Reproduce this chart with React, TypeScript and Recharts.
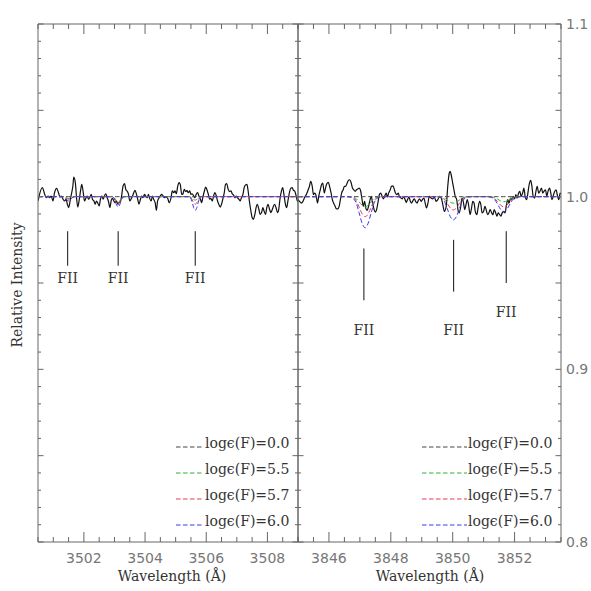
import { LineChart, Line, XAxis, YAxis, ReferenceLine, ReferenceDot } from 'recharts'

// observed spectrum, [wavelength (A), relative intensity]
const LEFT_SPECTRUM: [number, number][] = [
  [3500.50, 0.9975], [3500.64, 1.0052], [3500.72, 1.0013], [3500.77, 0.9994], [3500.83, 1.0004], [3500.88, 0.9994],
  [3500.93, 1.0004], [3500.99, 0.9975], [3501.04, 1.0023], [3501.11, 1.0048], [3501.17, 1.0023], [3501.22, 0.9998],
  [3501.26, 1.0004], [3501.32, 0.9985], [3501.37, 0.9975], [3501.42, 0.9985], [3501.46, 0.9956], [3501.50, 0.9937],
  [3501.55, 0.9975], [3501.59, 1.0013], [3501.64, 1.0062], [3501.67, 1.0113], [3501.72, 1.0081], [3501.76, 0.9994],
  [3501.80, 0.9940], [3501.85, 0.9985], [3501.89, 1.0033], [3501.93, 1.0071], [3501.98, 1.0023], [3502.02, 0.9975],
  [3502.07, 0.9994], [3502.11, 1.0004], [3502.15, 0.9985], [3502.20, 0.9998], [3502.24, 1.0013], [3502.28, 0.9985],
  [3502.33, 0.9975], [3502.37, 0.9956], [3502.41, 0.9975], [3502.46, 0.9960], [3502.50, 0.9946], [3502.54, 0.9985],
  [3502.59, 1.0004], [3502.63, 0.9985], [3502.67, 1.0004], [3502.72, 1.0017], [3502.76, 0.9994], [3502.80, 0.9975],
  [3502.85, 0.9937], [3502.89, 0.9975], [3502.93, 0.9990], [3502.98, 0.9975], [3503.02, 0.9965], [3503.07, 0.9975],
  [3503.11, 0.9956], [3503.15, 0.9965], [3503.20, 0.9975], [3503.24, 1.0013], [3503.28, 1.0062], [3503.33, 1.0075],
  [3503.37, 1.0042], [3503.41, 1.0033], [3503.46, 1.0013], [3503.50, 0.9975], [3503.54, 0.9985], [3503.59, 1.0004],
  [3503.63, 1.0023], [3503.67, 1.0037], [3503.72, 1.0013], [3503.76, 0.9985], [3503.80, 0.9956], [3503.85, 0.9985],
  [3503.89, 1.0004], [3503.93, 0.9994], [3503.98, 1.0013], [3504.02, 1.0004], [3504.07, 0.9994], [3504.11, 1.0013],
  [3504.15, 0.9990], [3504.20, 0.9975], [3504.24, 1.0004], [3504.28, 0.9985], [3504.33, 0.9965], [3504.37, 0.9921],
  [3504.41, 0.9975], [3504.46, 0.9994], [3504.50, 1.0004], [3504.54, 1.0013], [3504.59, 1.0004], [3504.63, 0.9994],
  [3504.68, 0.9998], [3504.74, 0.9990], [3504.79, 0.9965], [3504.85, 0.9994], [3504.89, 1.0033], [3504.94, 1.0023],
  [3504.98, 1.0033], [3505.02, 1.0017], [3505.07, 1.0062], [3505.11, 1.0081], [3505.15, 1.0071], [3505.20, 1.0013],
  [3505.24, 1.0017], [3505.28, 1.0042], [3505.33, 1.0029], [3505.37, 1.0037], [3505.41, 1.0023], [3505.46, 1.0033],
  [3505.50, 1.0013], [3505.54, 1.0017], [3505.59, 1.0004], [3505.63, 0.9994], [3505.67, 1.0013], [3505.72, 1.0023],
  [3505.76, 1.0004], [3505.81, 0.9985], [3505.85, 0.9965], [3505.89, 0.9998], [3505.94, 1.0033], [3505.98, 1.0056],
  [3506.02, 1.0042], [3506.07, 1.0013], [3506.11, 0.9985], [3506.15, 0.9990], [3506.20, 0.9975], [3506.24, 1.0004],
  [3506.28, 1.0023], [3506.33, 1.0004], [3506.37, 0.9975], [3506.41, 0.9956], [3506.46, 0.9940], [3506.50, 0.9956],
  [3506.54, 0.9985], [3506.59, 1.0023], [3506.63, 1.0071], [3506.67, 1.0075], [3506.72, 1.0042], [3506.76, 1.0029],
  [3506.81, 1.0033], [3506.85, 1.0017], [3506.89, 1.0010], [3506.94, 0.9994], [3506.98, 1.0004], [3507.02, 0.9994],
  [3507.07, 0.9985], [3507.11, 0.9975], [3507.15, 0.9994], [3507.20, 1.0013], [3507.24, 1.0052], [3507.28, 1.0067],
  [3507.33, 1.0071], [3507.37, 1.0033], [3507.41, 0.9975], [3507.46, 0.9917], [3507.50, 0.9879], [3507.54, 0.9869],
  [3507.59, 0.9898], [3507.63, 0.9937], [3507.67, 0.9956], [3507.72, 0.9927], [3507.76, 0.9898], [3507.81, 0.9908],
  [3507.85, 0.9937], [3507.89, 0.9917], [3507.94, 0.9898], [3507.98, 0.9937], [3508.02, 0.9956], [3508.07, 0.9927],
  [3508.11, 0.9908], [3508.15, 0.9921], [3508.20, 0.9946], [3508.24, 0.9956], [3508.28, 0.9937], [3508.33, 0.9908],
  [3508.37, 0.9927], [3508.41, 0.9985], [3508.46, 1.0033], [3508.50, 1.0052], [3508.54, 1.0013], [3508.59, 0.9956],
  [3508.63, 0.9937], [3508.67, 0.9975], [3508.72, 1.0023], [3508.76, 1.0048], [3508.81, 1.0052], [3508.85, 1.0037],
  [3508.89, 1.0033], [3508.94, 1.0004], [3508.98, 0.9975], [3509.00, 0.9970],
]

const RIGHT_SPECTRUM: [number, number][] = [
  [3845.00, 0.9983], [3845.05, 0.9973], [3845.11, 0.9963], [3845.16, 0.9973], [3845.22, 0.9998], [3845.27, 1.0012],
  [3845.33, 1.0040], [3845.37, 1.0060], [3845.41, 1.0088], [3845.46, 1.0060], [3845.50, 1.0012], [3845.54, 1.0021],
  [3845.59, 1.0002], [3845.63, 0.9963], [3845.67, 1.0002], [3845.72, 1.0040], [3845.76, 1.0069], [3845.80, 1.0079],
  [3845.85, 1.0021], [3845.89, 1.0050], [3845.93, 1.0075], [3845.98, 1.0083], [3846.02, 1.0060], [3846.07, 1.0021],
  [3846.11, 0.9983], [3846.15, 0.9963], [3846.20, 0.9944], [3846.24, 0.9929], [3846.28, 0.9929], [3846.33, 0.9944],
  [3846.37, 0.9983], [3846.41, 1.0021], [3846.46, 1.0040], [3846.50, 1.0060], [3846.54, 1.0060], [3846.59, 1.0079],
  [3846.63, 1.0094], [3846.67, 1.0098], [3846.72, 1.0079], [3846.76, 1.0050], [3846.80, 1.0040], [3846.85, 1.0031],
  [3846.89, 1.0040], [3846.93, 1.0044], [3846.98, 1.0050], [3847.02, 1.0037], [3847.07, 0.9983], [3847.11, 0.9944],
  [3847.15, 0.9973], [3847.20, 0.9929], [3847.24, 0.9921], [3847.28, 0.9944], [3847.33, 0.9983], [3847.37, 1.0002],
  [3847.41, 0.9963], [3847.46, 0.9925], [3847.50, 0.9910], [3847.54, 0.9925], [3847.59, 0.9973], [3847.63, 1.0012],
  [3847.67, 1.0021], [3847.72, 1.0002], [3847.76, 0.9987], [3847.80, 1.0002], [3847.85, 1.0021], [3847.89, 0.9998],
  [3847.93, 1.0021], [3847.98, 1.0040], [3848.02, 1.0060], [3848.07, 1.0063], [3848.11, 1.0044], [3848.15, 1.0021],
  [3848.20, 1.0012], [3848.24, 1.0021], [3848.28, 0.9998], [3848.33, 0.9992], [3848.37, 0.9987], [3848.41, 1.0002],
  [3848.46, 0.9983], [3848.50, 0.9967], [3848.54, 0.9983], [3848.59, 0.9998], [3848.63, 0.9973], [3848.67, 0.9963],
  [3848.72, 0.9979], [3848.76, 0.9987], [3848.80, 0.9973], [3848.85, 0.9963], [3848.89, 0.9979], [3848.93, 0.9987],
  [3848.98, 0.9973], [3849.02, 0.9983], [3849.07, 0.9992], [3849.11, 0.9963], [3849.15, 0.9935], [3849.20, 0.9963],
  [3849.24, 1.0002], [3849.30, 0.9992], [3849.35, 0.9987], [3849.41, 0.9998], [3849.46, 0.9973], [3849.52, 0.9983],
  [3849.57, 1.0002], [3849.63, 0.9992], [3849.68, 0.9954], [3849.73, 0.9915], [3849.79, 0.9944], [3849.84, 1.0060],
  [3849.89, 1.0137], [3849.92, 1.0146], [3849.95, 1.0127], [3850.00, 1.0079], [3850.04, 1.0040], [3850.08, 1.0002],
  [3850.13, 0.9983], [3850.17, 0.9925], [3850.21, 0.9906], [3850.26, 0.9944], [3850.30, 0.9992], [3850.34, 0.9973],
  [3850.39, 0.9925], [3850.43, 0.9954], [3850.47, 0.9983], [3850.52, 0.9944], [3850.56, 0.9896], [3850.60, 0.9925],
  [3850.65, 0.9973], [3850.69, 0.9963], [3850.73, 0.9915], [3850.78, 0.9896], [3850.82, 0.9935], [3850.87, 0.9973],
  [3850.91, 0.9954], [3850.95, 0.9906], [3851.00, 0.9915], [3851.04, 0.9944], [3851.08, 0.9925], [3851.13, 0.9896],
  [3851.17, 0.9906], [3851.21, 0.9925], [3851.26, 0.9906], [3851.30, 0.9896], [3851.34, 0.9925], [3851.39, 0.9906],
  [3851.43, 0.9887], [3851.47, 0.9906], [3851.52, 0.9896], [3851.56, 0.9887], [3851.60, 0.9906], [3851.65, 0.9915],
  [3851.69, 0.9906], [3851.73, 0.9944], [3851.78, 0.9983], [3851.82, 0.9963], [3851.87, 0.9992], [3851.91, 0.9983],
  [3851.95, 1.0002], [3852.00, 0.9987], [3852.04, 1.0012], [3852.08, 0.9992], [3852.13, 1.0021], [3852.17, 1.0031],
  [3852.21, 1.0002], [3852.26, 1.0021], [3852.30, 1.0050], [3852.34, 1.0002], [3852.39, 0.9983], [3852.43, 1.0021],
  [3852.47, 1.0069], [3852.52, 1.0094], [3852.56, 1.0060], [3852.60, 1.0002], [3852.65, 0.9992], [3852.69, 1.0031],
  [3852.73, 1.0060], [3852.78, 1.0021], [3852.82, 1.0031], [3852.87, 1.0050], [3852.91, 1.0021], [3852.95, 1.0031],
  [3853.00, 1.0040], [3853.04, 1.0002], [3853.08, 1.0031], [3853.13, 1.0050], [3853.17, 1.0021], [3853.21, 0.9983],
  [3853.26, 1.0012], [3853.30, 1.0031], [3853.34, 1.0040], [3853.39, 1.0002], [3853.43, 0.9983], [3853.47, 1.0021],
  [3853.50, 1.0015],
]

// synthetic spectra, log eps(F) = 0.0 / 5.5 / 5.7 / 6.0
const LEFT_MODEL_WAVE = [
  3500.5, 3501.3, 3501.35, 3501.4, 3501.45, 3501.5, 3501.55, 3501.6, 3501.65, 3501.7,
  3502.92, 3502.97, 3503.02, 3503.07, 3503.12, 3503.17, 3503.22, 3503.27, 3503.32,
  3505.44, 3505.49, 3505.54, 3505.59, 3505.64, 3505.69, 3505.74, 3505.79, 3505.84, 3509.0,
]
const LEFT_MODEL_00 = [
  1, 1, 1, 1, 1, 1, 1, 1, 1, 1, 1, 1, 1, 1, 1, 1, 1, 1, 1, 1, 1, 1, 1, 1, 1, 1, 1, 1, 1,
]
const LEFT_MODEL_55 = [
  1, 1, 0.9999, 0.9996, 0.9992, 0.999, 0.9992, 0.9996, 0.9999, 1,
  1, 0.9997, 0.9988, 0.9976, 0.997, 0.9976, 0.9988, 0.9997, 1,
  1, 0.9998, 0.9992, 0.9984, 0.998, 0.9984, 0.9992, 0.9998, 1, 1,
]
const LEFT_MODEL_57 = [
  1, 1, 0.99985, 0.9994, 0.9988, 0.9985, 0.9988, 0.9994, 0.99985, 1,
  1, 0.9996, 0.9984, 0.9968, 0.996, 0.9968, 0.9984, 0.9996, 1,
  1, 0.99956, 0.99824, 0.99648, 0.9956, 0.99648, 0.99824, 0.99956, 1, 1,
]
const LEFT_MODEL_60 = [
  1, 1, 0.99975, 0.999, 0.998, 0.9975, 0.998, 0.999, 0.99975, 1,
  1, 0.9994, 0.9976, 0.9952, 0.994, 0.9952, 0.9976, 0.9994, 1,
  1, 0.9992, 0.9968, 0.9936, 0.992, 0.9936, 0.9968, 0.9992, 1, 1,
]

const RIGHT_MODEL_WAVE = [
  3845.0, 3846.6, 3846.72, 3846.87, 3846.97, 3847.07, 3847.17, 3847.27, 3847.37, 3847.47, 3847.62, 3847.75,
  3849.45, 3849.57, 3849.72, 3849.82, 3849.92, 3850.02, 3850.12, 3850.22, 3850.32, 3850.47, 3850.6,
  3851.08, 3851.2, 3851.35, 3851.45, 3851.55, 3851.65, 3851.75, 3851.85, 3851.95, 3852.1, 3852.22, 3853.5,
]
const RIGHT_MODEL_00 = [
  1, 1, 1, 1, 1, 1, 1, 1, 1, 1, 1, 1, 1, 1, 1, 1, 1, 1,
  1, 1, 1, 1, 1, 1, 1, 1, 1, 1, 1, 1, 1, 1, 1, 1, 1,
]
const RIGHT_MODEL_55 = [
  1, 1, 0.9999, 0.999, 0.9971, 0.9951, 0.9942, 0.9951, 0.9971, 0.999, 0.9999, 1,
  1, 0.9999, 0.9993, 0.9981, 0.9968, 0.9962, 0.9968, 0.9981, 0.9993, 0.9999, 1,
  1, 1, 0.9995, 0.9986, 0.9975, 0.9971, 0.9975, 0.9986, 0.9995, 1, 1, 1,
]
const RIGHT_MODEL_57 = [
  1, 1, 0.9998, 0.9979, 0.9942, 0.9901, 0.9884, 0.9901, 0.9942, 0.9979, 0.9998, 1,
  1, 0.9998, 0.9986, 0.9962, 0.9935, 0.9923, 0.9935, 0.9962, 0.9986, 0.9998, 1,
  1, 0.9999, 0.999, 0.9971, 0.9951, 0.9942, 0.9951, 0.9971, 0.999, 0.9999, 1, 1,
]
const RIGHT_MODEL_60 = [
  1, 1, 0.9996, 0.9968, 0.991, 0.9847, 0.982, 0.9847, 0.991, 0.9968, 0.9996, 1,
  1, 0.9997, 0.9976, 0.9933, 0.9885, 0.9865, 0.9885, 0.9933, 0.9976, 0.9997, 1,
  1, 0.9998, 0.9984, 0.9957, 0.9926, 0.9913, 0.9926, 0.9957, 0.9984, 0.9998, 1, 1,
]

const MODEL_LABELS = ['log\u03f5(F)=0.0', 'log\u03f5(F)=5.5', 'log\u03f5(F)=5.7', 'log\u03f5(F)=6.0']
const MODEL_COLORS = ['#444444', '#33b033', '#e8375a', '#3a3af0']

// F II line identifications: wavelength, tick top, tick bottom, label height
const LEFT_LINE_WAVE = [3501.47, 3503.12, 3505.64]
const LEFT_LINE_TOP = [0.980, 0.980, 0.980]
const LEFT_LINE_BOTTOM = [0.960, 0.960, 0.960]
const LEFT_LINE_LABEL = [0.953, 0.953, 0.953]
const RIGHT_LINE_WAVE = [3847.13, 3850.03, 3851.73]
const RIGHT_LINE_TOP = [0.970, 0.975, 0.980]
const RIGHT_LINE_BOTTOM = [0.940, 0.945, 0.950]
const RIGHT_LINE_LABEL = [0.923, 0.923, 0.933]

const LEFT_X_TICKS = [
  3500.5, 3501, 3501.5, 3502, 3502.5, 3503, 3503.5, 3504, 3504.5,
  3505, 3505.5, 3506, 3506.5, 3507, 3507.5, 3508, 3508.5, 3509,
]
const LEFT_X_LABELS = [3502, 3504, 3506, 3508]
const RIGHT_X_TICKS = [
  3845, 3845.5, 3846, 3846.5, 3847, 3847.5, 3848, 3848.5, 3849,
  3849.5, 3850, 3850.5, 3851, 3851.5, 3852, 3852.5, 3853, 3853.5,
]
const RIGHT_X_LABELS = [3846, 3848, 3850, 3852]
const Y_TICKS = [
  0.8, 0.81, 0.82, 0.83, 0.84, 0.85, 0.86, 0.87, 0.88, 0.89, 0.9, 0.91, 0.92, 0.93, 0.94, 0.95,
  0.96, 0.97, 0.98, 0.99, 1.0, 1.01, 1.02, 1.03, 1.04, 1.05, 1.06, 1.07, 1.08, 1.09, 1.1,
]
const Y_MAJOR = [0.8, 0.85, 0.9, 0.95, 1.0, 1.05, 1.1]
const Y_LABELS = [0.8, 0.9, 1.0, 1.1]

const FRAME = '#666666'
const INK = '#333333'
const TICK_INK = '#777777'
const SERIF = 'DejaVu Serif'
const DASH = '4.5 2.5'

const bottomTick = (labels: number[]) => (p: any) => {
  const v = p.payload.value
  const major = labels.includes(v)
  return (
    <g>
      <line x1={p.x} x2={p.x} y1={p.y} y2={p.y - (major ? 10 : 5)} stroke={FRAME} />
      {major && (
        <text x={p.x} y={p.y + 21} textAnchor="middle" fontSize={14} fill={TICK_INK} fontFamily="DejaVu Sans">
          {v}
        </text>
      )}
    </g>
  )
}

const topTick = (labels: number[]) => (p: any) => {
  const major = labels.includes(p.payload.value)
  return <line x1={p.x} x2={p.x} y1={p.y} y2={p.y + (major ? 10 : 5)} stroke={FRAME} />
}

const leftTick = (p: any) => {
  const major = Y_MAJOR.includes(p.payload.value)
  return <line x1={p.x} x2={p.x + (major ? 5.5 : 3)} y1={p.y} y2={p.y} stroke={FRAME} />
}

const rightTick = (showLabels: boolean) => (p: any) => {
  const v = p.payload.value
  const major = Y_MAJOR.includes(v)
  return (
    <g>
      <line x1={p.x} x2={p.x - (major ? 5.5 : 3)} y1={p.y} y2={p.y} stroke={FRAME} />
      {showLabels && Y_LABELS.includes(v) && (
        <text x={p.x + 5} y={p.y + 5} fontSize={14} fill={TICK_INK} fontFamily="DejaVu Sans">
          {v.toFixed(1)}
        </text>
      )}
    </g>
  )
}

const labelShape = (p: any) => (
  <text x={p.cx} y={p.cy + 5} textAnchor="middle" fontSize={14} fill={INK} fontFamily={SERIF}>
    FII
  </text>
)

type PanelProps = {
  left: number
  width: number
  margin: { top: number; right: number; bottom: number; left: number }
  domain: [number, number]
  xTicks: number[]
  xLabels: number[]
  spectrum: [number, number][]
  modelWave: number[]
  models: number[][]
  lineWave: number[]
  lineTop: number[]
  lineBottom: number[]
  lineLabel: number[]
  yLabels: boolean
}

function Panel(props: PanelProps) {
  const spec = props.spectrum.map(([x, y]) => ({ x, y }))
  const models = props.models.map((m) => props.modelWave.map((x, i) => ({ x, y: m[i] })))
  return (
    <div style={{ position: 'absolute', left: props.left, top: 0 }}>
      <LineChart width={props.width} height={591} margin={props.margin}>
        <XAxis
          xAxisId="b" dataKey="x" type="number" domain={props.domain} allowDataOverflow
          ticks={props.xTicks} interval={0} height={1} tickSize={0} tickMargin={0} tickLine={false}
          axisLine={{ stroke: FRAME }} tick={bottomTick(props.xLabels)}
        />
        <XAxis
          xAxisId="t" orientation="top" dataKey="x" type="number" domain={props.domain} allowDataOverflow
          ticks={props.xTicks} interval={0} height={1} tickSize={0} tickMargin={0} tickLine={false}
          axisLine={{ stroke: FRAME }} tick={topTick(props.xLabels)}
        />
        <YAxis
          yAxisId="l" type="number" domain={[0.8, 1.1]} allowDataOverflow ticks={Y_TICKS} interval={0}
          width={1} tickSize={0} tickMargin={0} tickLine={false} axisLine={{ stroke: FRAME }} tick={leftTick}
        />
        <YAxis
          yAxisId="r" orientation="right" type="number" domain={[0.8, 1.1]} allowDataOverflow ticks={Y_TICKS}
          interval={0} width={1} tickSize={0} tickMargin={0} tickLine={false} axisLine={{ stroke: FRAME }}
          tick={rightTick(props.yLabels)}
        />
        <Line
          xAxisId="b" yAxisId="l" data={spec} dataKey="y" type="monotone" stroke="#111111"
          strokeWidth={1.2} dot={false} isAnimationActive={false}
        />
        {models.map((m, i) => (
          <Line
            key={i} xAxisId="b" yAxisId="l" data={m} dataKey="y" type="monotone" stroke={MODEL_COLORS[i]}
            strokeWidth={1} strokeDasharray={DASH} dot={false} isAnimationActive={false}
          />
        ))}
        {props.lineWave.map((w, i) => (
          <ReferenceLine
            key={'l' + i} xAxisId="b" yAxisId="l" stroke="#111111" strokeWidth={1}
            segment={[{ x: w, y: props.lineTop[i] }, { x: w, y: props.lineBottom[i] }]}
          />
        ))}
        {props.lineWave.map((w, i) => (
          <ReferenceDot
            key={'d' + i} xAxisId="b" yAxisId="l" x={w} y={props.lineLabel[i]} r={1} shape={labelShape}
          />
        ))}
      </LineChart>
    </div>
  )
}

function LegendBlock({ x1, x2, textX }: { x1: number; x2: number; textX: number }) {
  const rows = [443, 469, 495, 521]
  return (
    <g>
      {MODEL_LABELS.map((label, i) => (
        <g key={label}>
          <line x1={x1} x2={x2} y1={rows[i] + 4} y2={rows[i] + 4} stroke={MODEL_COLORS[i]} strokeDasharray={DASH} />
          <text x={textX} y={rows[i] + 5} fontSize={14} fill={INK} fontFamily={SERIF}>
            {label}
          </text>
        </g>
      ))}
    </g>
  )
}

export default function App() {
  return (
    <div style={{ position: 'absolute', left: 0, top: 0, width: 591, height: 591, background: '#fff' }}>
      <Panel
        left={0} width={299} margin={{ top: 23, right: 0, bottom: 48, left: 37 }}
        domain={[3500.5, 3509]} xTicks={LEFT_X_TICKS} xLabels={LEFT_X_LABELS}
        spectrum={LEFT_SPECTRUM} modelWave={LEFT_MODEL_WAVE}
        models={[LEFT_MODEL_00, LEFT_MODEL_55, LEFT_MODEL_57, LEFT_MODEL_60]}
        lineWave={LEFT_LINE_WAVE} lineTop={LEFT_LINE_TOP} lineBottom={LEFT_LINE_BOTTOM}
        lineLabel={LEFT_LINE_LABEL} yLabels={false}
      />
      <Panel
        left={297} width={294} margin={{ top: 23, right: 29, bottom: 48, left: 0 }}
        domain={[3845, 3853.5]} xTicks={RIGHT_X_TICKS} xLabels={RIGHT_X_LABELS}
        spectrum={RIGHT_SPECTRUM} modelWave={RIGHT_MODEL_WAVE}
        models={[RIGHT_MODEL_00, RIGHT_MODEL_55, RIGHT_MODEL_57, RIGHT_MODEL_60]}
        lineWave={RIGHT_LINE_WAVE} lineTop={RIGHT_LINE_TOP} lineBottom={RIGHT_LINE_BOTTOM}
        lineLabel={RIGHT_LINE_LABEL} yLabels={true}
      />
      <svg width={591} height={591} style={{ position: 'absolute', left: 0, top: 0, pointerEvents: 'none' }}>
        <text
          x={17} y={285} transform="rotate(-90 17 285)" textAnchor="middle" dominantBaseline="central"
          fontSize={14} fill={INK} fontFamily={SERIF}
        >
          Relative Intensity
        </text>
        <text x={172} y={581} textAnchor="middle" fontSize={14} fill={INK} fontFamily={SERIF}>
          Wavelength (Å)
        </text>
        <text x={430} y={581} textAnchor="middle" fontSize={14} fill={INK} fontFamily={SERIF}>
          Wavelength (Å)
        </text>
        <LegendBlock x1={176} x2={204} textX={205} />
        <LegendBlock x1={422} x2={467} textX={468} />
      </svg>
    </div>
  )
}
